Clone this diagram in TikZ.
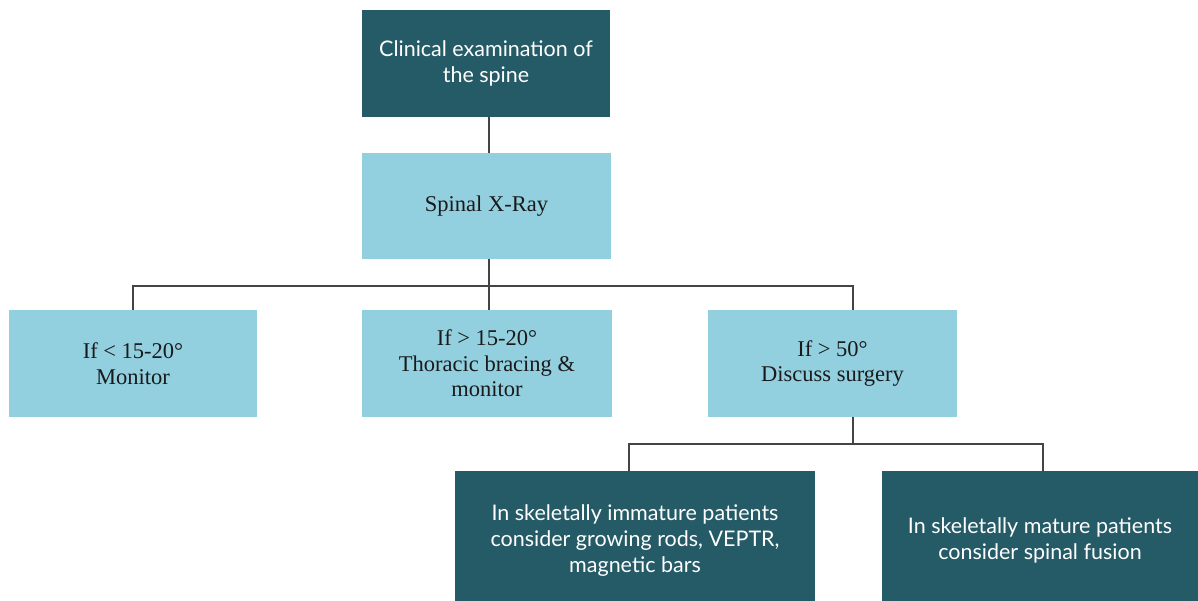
\documentclass[tikz,border=0pt]{standalone}
\usepackage{fontspec}
\setmainfont{Liberation Serif}
\newfontfamily\latofont{Lato}
\definecolor{darkteal}{HTML}{255B67}
\definecolor{lightteal}{HTML}{92CFDF}
\definecolor{linegray}{HTML}{444444}
\definecolor{textdark}{HTML}{1A1A1A}
\begin{document}
\begin{tikzpicture}[x=1pt,y=-1pt,
	darkbox/.style={fill=darkteal, text=white, inner sep=0pt, outer sep=0pt, align=center, font=\latofont\fontsize{21.5}{26}\selectfont},
	lightbox/.style={fill=lightteal, text=textdark, inner sep=0pt, outer sep=0pt, align=center, minimum height=107pt, font=\fontsize{22.5}{25.5}\selectfont},
	link/.style={draw=linegray, line width=2pt}]

	\useasboundingbox (0,0) rectangle (1198,600);

	\node[darkbox, minimum width=248pt, minimum height=107pt] (exam) at (486,63.5) {Clinical examination of\\the spine};
	\node[lightbox, minimum width=249pt, minimum height=106pt] (xray) at (486.5,206) {Spinal X-Ray};

	\node[lightbox, minimum width=248pt] (low) at (133,363.5) {If < 15-20°\\Monitor};
	\node[lightbox, minimum width=250pt] (mid) at (487,363.5) {If > 15-20°\\Thoracic bracing \&\\monitor};
	\node[lightbox, minimum width=249pt] (high) at (832.5,363.5) {If > 50°\\Discuss surgery};

	% bottom boxes run past the lower edge of the page
	\node[darkbox, minimum width=360pt, minimum height=139pt] (immature) at (635,540.5) {In skeletally immature patients\\consider growing rods, VEPTR,\\magnetic bars};
	\node[darkbox, minimum width=316pt, minimum height=139pt] (mature) at (1040,540.5) {In skeletally mature patients\\consider spinal fusion};

	% connectors
	\draw[link] ([xshift=2.5pt]exam.south) -- ([xshift=2.5pt]exam.south |- xray.north);
	\draw[link] ([xshift=2.5pt]xray.south) -- ++(0,27) coordinate (split);
	\draw[link] (split) -| (low.north);
	\draw[link] (split) -- (split |- mid.north);
	\draw[link] (split) -| ([xshift=20pt]high.north);

	\draw[link] ([xshift=20pt]high.south) -- ++(0,27) coordinate (fork);
	\draw[link] (fork) -| ([xshift=-6pt]immature.north);
	\draw[link] (fork) -| ([xshift=3pt]mature.north);
\end{tikzpicture}
\end{document}
